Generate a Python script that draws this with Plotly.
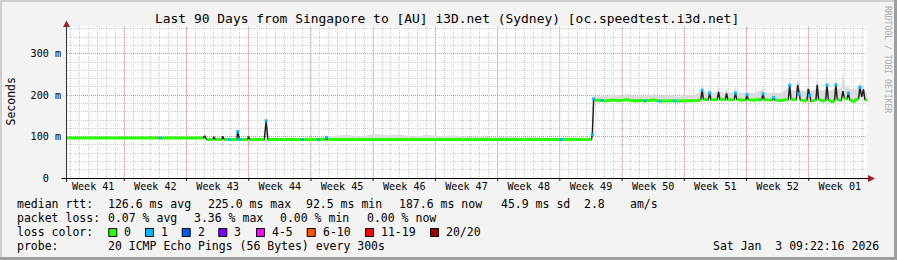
import plotly.graph_objects as go
import pandas as pd

# ---------------- data ----------------
TITLE = "Last 90 Days from Singapore to [AU] i3D.net (Sydney) [oc.speedtest.i3d.net]"
RANGE_START = "2025-10-05 13:22:16"
RANGE_END = "2026-01-03 13:22:16"

week_labels = ["Week 41", "Week 42", "Week 43", "Week 44", "Week 45", "Week 46", "Week 47",
               "Week 48", "Week 49", "Week 50", "Week 51", "Week 52", "Week 01"]
week_label_dates = ["2025-10-08 12:00", "2025-10-15 12:00", "2025-10-22 12:00", "2025-10-29 12:00",
                    "2025-11-05 12:00", "2025-11-12 12:00", "2025-11-19 12:00", "2025-11-26 12:00",
                    "2025-12-03 12:00", "2025-12-10 12:00", "2025-12-17 12:00", "2025-12-24 12:00",
                    "2025-12-31 12:00"]
week_starts = ["2025-10-12", "2025-10-19", "2025-10-26", "2025-11-02", "2025-11-09", "2025-11-16",
               "2025-11-23", "2025-11-30", "2025-12-07", "2025-12-14", "2025-12-21", "2025-12-28"]

y_tick_vals = [0, 100, 200, 300]
y_tick_text = ["0\u00a0\u00a0", "100 m", "200 m", "300 m"]

N = None
# days since graph start
day = [0.0, 2.0, 4.0, 6.0, 8.0, 10.3, 10.5, 10.7, 11.3, 11.4,
       11.6, 13.5, 15.3, 15.5, 15.7, 16.4, 16.5, 16.7, 17.4, 17.5,
       17.7, 18.2, 18.3, 18.4, 19.0, 19.1, 19.2, 19.4, 19.6, 20.3,
       20.4, 20.6, 22.2, 22.4, 22.6, 24.5, 26.4, 26.5, 26.6, 28.2,
       28.3, 28.4, 29.1, 29.2, 29.3, 30.0, 31.5, 33.0, 34.5, 36.0,
       37.5, 39.0, 40.5, 42.0, 43.5, 45.0, 46.5, 48.0, 49.5, 51.0,
       52.5, 54.0, 55.5, 55.6, 55.7, 57.5, 59.0, 59.1, 59.25, 59.4,
       59.9, 60.1, 60.2, 60.3, 60.5, 61.0, 61.5, 62.0, 62.5, 63.0,
       63.5, 64.0, 64.5, 64.9, 65.0, 65.1, 65.5, 66.0, 66.6, 66.7,
       66.8, 67.2, 67.8, 68.3, 68.4, 68.5, 68.9, 69.5, 70.0, 70.5,
       71.0, 71.3, 71.45, 71.6, 72.0, 72.15, 72.3, 72.45, 73.0, 73.15,
       73.3, 73.45, 73.9, 74.05, 74.2, 74.35, 74.9, 75.05, 75.2, 75.35,
       75.9, 76.35, 76.5, 76.65, 77.3, 77.8, 78.15, 78.3, 78.45, 79.0,
       79.35, 79.5, 79.65, 80.3, 80.8, 81.15, 81.3, 81.45, 81.9, 82.05,
       82.2, 82.35, 82.5, 83.1, 83.25, 83.4, 83.55, 83.7, 84.25, 84.4,
       84.55, 85.0, 85.35, 85.5, 85.65, 86.1, 86.35, 86.5, 86.65, 87.1,
       87.3, 87.45, 87.75, 87.9, 88.05, 88.5, 88.8, 89.05, 89.2, 89.4,
       89.6, 89.75, 90.0]
# median rtt (ms)
median_ms = [96.5, 96.5, 96.4, 96.5, 96.5, 96.5, 96.4, 96.5, 96.5, 98.0,
             96.5, 96.5, 96.5, 101.0, 93.2, 93.2, 99.5, 93.2, 93.2, 100.5,
             93.2, 93.2, 93.0, 93.2, 93.2, 93.2, 112.0, 93.0, 93.2, 93.2,
             99.5, 93.2, 93.2, 138.0, 93.2, 93.2, 93.2, 93.0, 93.2, 93.2,
             92.5, 93.2, 93.2, 97.5, 93.2, 93.3, 93.2, 93.2, 93.2, 93.2,
             93.2, 93.2, 93.3, 93.2, 93.2, 93.2, 93.2, 93.2, 93.2, 93.2,
             93.2, 93.2, 93.2, 93.0, 93.2, 93.2, 93.2, 105.0, 191.0, 188.0,
             186.5, 187.0, 187.5, 187.0, 186.0, 187.0, 188.5, 186.5, 187.5, 189.0,
             187.0, 186.0, 187.5, 186.5, 186.0, 186.5, 187.0, 188.5, 186.5, 185.5,
             186.0, 186.5, 187.0, 186.5, 186.0, 186.0, 186.0, 186.5, 185.5, 186.5,
             187.0, 189.0, 212.0, 190.0, 188.0, 189.0, 205.0, 189.0, 188.0, 189.0,
             208.0, 190.0, 188.5, 189.0, 204.0, 189.0, 188.0, 189.0, 205.0, 190.0,
             188.0, 188.5, 201.0, 189.0, 188.0, 189.5, 189.0, 203.0, 189.0, 188.0,
             188.5, 194.0, 188.5, 187.0, 189.0, 189.0, 224.0, 190.0, 189.0, 189.0,
             225.0, 203.0, 188.0, 186.0, 188.0, 215.0, 200.0, 185.0, 188.0, 225.0,
             190.0, 186.0, 188.0, 224.0, 189.0, 184.0, 188.0, 225.0, 190.0, 187.0,
             210.0, 193.0, 191.0, 205.0, 189.0, 184.0, 190.0, 191.0, 219.0, 196.0,
             214.0, 190.0, 187.6]
# lost pings per sample (None = no loss colour band drawn)
loss = [0, 0, 0, 0, 0, 0, 1, 0, 0, 0,
        0, 0, 0, N, 0, 0, N, 0, 0, N,
        0, 0, 1, 0, 0, 0, 1, 1, 0, 0,
        N, 0, 0, 1, 0, 0, 0, 1, 0, 0,
        1, 0, 0, 1, 0, 0, 0, 0, 0, 0,
        0, 0, 0, 0, 0, 0, 0, 0, 0, 0,
        0, 0, 0, 1, 0, 0, 0, 1, 1, 0,
        0, 0, 1, 0, 0, 0, 0, 0, 0, 0,
        0, 0, 0, 0, 1, 0, 0, 0, 0, 1,
        0, 0, 0, 0, 1, 0, 0, 0, 0, 0,
        0, 0, 1, 0, 0, 0, 1, 0, 0, 0,
        N, 0, 0, 0, N, 0, 0, 0, 1, 0,
        0, 0, 1, 0, 0, 0, 0, 1, 0, 0,
        0, 1, 0, 0, 0, 0, 1, 0, 0, 0,
        N, 1, 0, 0, 0, N, 1, 0, 0, N,
        0, 0, 0, 1, 0, 0, 0, 1, 0, 0,
        N, 0, 0, 1, 0, 0, 0, 0, 1, N,
        N, 0, 0]
# top of the smoke (ms)
smoke_ms = [97.5, 97.5, 97.5, 97.5, 97.5, 97.5, 97.5, 97.5, 98.0, 99.5,
            98.0, 97.5, 98.0, 102.0, 94.5, 94.5, 101.0, 94.5, 94.5, 102.0,
            94.5, 94.5, 94.5, 94.5, 95.0, 95.0, 115.0, 95.0, 95.0, 95.0,
            101.0, 95.0, 95.0, 141.0, 95.0, 95.0, 95.0, 95.0, 96.0, 97.0,
            98.0, 98.0, 99.0, 104.0, 100.0, 102.0, 104.0, 100.0, 106.0, 103.0,
            105.0, 100.0, 104.0, 101.0, 103.0, 99.0, 101.0, 98.0, 100.0, 98.0,
            99.0, 97.0, 97.0, 97.0, 97.0, 97.0, 96.0, 108.0, 200.0, 198.0,
            197.0, 199.0, 200.0, 200.0, 199.0, 197.0, 203.0, 200.0, 198.0, 204.0,
            199.0, 197.0, 201.0, 198.0, 198.0, 198.0, 199.0, 203.0, 198.0, 197.0,
            198.0, 199.0, 200.0, 198.0, 198.0, 198.0, 197.0, 199.0, 198.0, 200.0,
            205.0, 210.0, 225.0, 212.0, 205.0, 208.0, 215.0, 207.0, 206.0, 210.0,
            220.0, 210.0, 205.0, 210.0, 218.0, 207.0, 206.0, 210.0, 220.0, 208.0,
            205.0, 207.0, 212.0, 206.0, 205.0, 210.0, 212.0, 222.0, 208.0, 205.0,
            206.0, 210.0, 205.0, 206.0, 212.0, 218.0, 240.0, 214.0, 210.0, 215.0,
            238.0, 230.0, 212.0, 210.0, 215.0, 230.0, 215.0, 210.0, 215.0, 252.0,
            215.0, 210.0, 215.0, 240.0, 212.0, 212.0, 218.0, 245.0, 215.0, 218.0,
            258.0, 225.0, 218.0, 222.0, 215.0, 214.0, 215.0, 220.0, 235.0, 222.0,
            228.0, 210.0, 205.0]

loss_labels = ["0", "1", "2", "3", "4-5", "6-10", "11-19", "20/20"]
loss_colors = ["#26ff00", "#00b8ff", "#0059ff", "#7e00ff", "#ff00ff", "#ff5500", "#ff0000", "#a10000"]

stats_rtt = ["126.6 ms avg", "225.0 ms max", "92.5 ms min", "187.6 ms now", "45.9 ms sd", "2.8", "am/s"]
stats_loss = ["0.07 % avg", "3.36 % max", "0.00 % min", "0.00 % now"]
probe_text = "20 ICMP Echo Pings (56 Bytes) every 300s"
stamp_text = "Sat Jan\u00a0\u00a03 09:22:16 2026"

assert len(day) == len(median_ms) == len(loss) == len(smoke_ms)

# ---------------- layout geometry ----------------
W, H = 897, 260
L, R, T, B = 67, 30, 26, 82
PW, PH = W - L - R, H - T - B
MONO = "DejaVu Sans Mono"


def px(x, y):
    return (x - L) / PW, (H - B - y) / PH


t = pd.Timestamp(RANGE_START) + pd.to_timedelta(day, unit="D")

fig = go.Figure()
# smoke band
fig.add_trace(go.Scatter(x=t, y=median_ms, mode="lines", line=dict(width=0, color="rgba(0,0,0,0)"),
                         hoverinfo="skip", showlegend=False))
fig.add_trace(go.Scatter(x=t, y=smoke_ms, mode="lines", line=dict(width=0, color="rgba(0,0,0,0)"),
                         fill="tonexty", fillcolor="#dcdcdc", hoverinfo="skip", showlegend=False))
# thin dark median line
fig.add_trace(go.Scatter(x=t, y=median_ms, mode="lines", line=dict(width=1.5, color="#202020"),
                         showlegend=False))
# loss coloured median bands
g = [m if l == 0 else None for m, l in zip(median_ms, loss)]
fig.add_trace(go.Scatter(x=t, y=g, mode="lines", line=dict(width=3, color=loss_colors[0]),
                         connectgaps=False, showlegend=False))
b = [m if l == 1 else None for m, l in zip(median_ms, loss)]
fig.add_trace(go.Scatter(x=t, y=b, mode="markers",
                         marker=dict(symbol="square", size=3, color=loss_colors[1], line=dict(width=0)),
                         showlegend=False))

shapes = []
# week boundary (major) grid lines and ticks
for ws in week_starts:
    shapes.append(dict(type="line", xref="x", yref="paper", x0=ws, x1=ws, y0=0, y1=1,
                       line=dict(color="rgba(240,120,120,0.75)", width=1, dash="1px,1px"), layer="between"))
    shapes.append(dict(type="line", xref="x", yref="paper", x0=ws, x1=ws, y0=px(0, 178)[1],
                       y1=px(0, 181)[1], line=dict(color="#202020", width=1)))

# axis lines
ax0, ay0 = px(61.5, 178.5)
ax1, _ = px(868, 178.5)
shapes.append(dict(type="line", xref="paper", yref="paper", x0=ax0, x1=ax1, y0=ay0, y1=ay0,
                   line=dict(color="#000000", width=1)))
vx, vy0 = px(66.5, 182)
_, vy1 = px(66.5, 25)
shapes.append(dict(type="line", xref="paper", yref="paper", x0=vx, x1=vx, y0=vy0, y1=vy1,
                   line=dict(color="#303030", width=1)))


def tri(p1, p2, p3):
    a, b_, c = px(*p1), px(*p2), px(*p3)
    return f"M{a[0]},{a[1]} L{b_[0]},{b_[1]} L{c[0]},{c[1]} Z"


shapes.append(dict(type="path", xref="paper", yref="paper", path=tri((66.5, 20.5), (63.0, 27.0), (70.0, 27.0)),
                   fillcolor="#992222", line=dict(width=0)))
shapes.append(dict(type="path", xref="paper", yref="paper", path=tri((875.0, 178.5), (868.0, 175.0), (868.0, 182.0)),
                   fillcolor="#992222", line=dict(width=0)))


# outer 3d border
def edge(x0, y0, x1, y1, color, w):
    a, b_ = px(x0, y0), px(x1, y1)
    shapes.append(dict(type="line", xref="paper", yref="paper", x0=a[0], y0=a[1], x1=b_[0], y1=b_[1],
                       line=dict(color=color, width=w)))


edge(1, 0, 1, 260, "#cfcfcf", 2)
edge(0, 1, 897, 1, "#cfcfcf", 2)
edge(895.5, 0, 895.5, 260, "#9e9e9e", 3)
edge(0, 258.5, 897, 258.5, "#9e9e9e", 3)

annotations = []


def text(s, x, y, size=11.5, anchor="left", color="#000000", angle=0):
    xp, yp = px(x, y)
    annotations.append(dict(text=s, x=xp, y=yp, xref="paper", yref="paper", showarrow=False,
                            xanchor=anchor, yanchor="middle", borderpad=0, textangle=angle,
                            font=dict(family=MONO, size=size, color=color)))


text(TITLE, 447, 18.5, size=12.95, anchor="center")
text("Seconds", 10.8, 101.7, size=11.5, anchor="center", angle=-90)
text("RRDTOOL / TOBI OETIKER", 888, 59, size=8.1, anchor="center", color="#ababab", angle=90)

row_y = [204.3, 218.3, 232.3, 246.0]
text("median rtt:", 16, row_y[0])
for s, x in zip(stats_rtt, [107.3, 207.3, 305.0, 398.3, 500.0, 583.3, 629.0]):
    text(s, x, row_y[0])
text("packet loss:", 16, row_y[1])
for s, x in zip(stats_loss, [107.3, 192.7, 279.3, 365.7]):
    text(s, x, row_y[1])
text("loss color:", 16, row_y[2])
for lab, col, bx in zip(loss_labels, loss_colors, [108.3, 145.0, 181.7, 218.3, 256.0, 306.7, 365.0, 430.0]):
    a, c = px(bx + 0.5, 228.5), px(bx + 8.5, 236.5)
    shapes.append(dict(type="rect", xref="paper", yref="paper", x0=a[0], y0=a[1], x1=c[0], y1=c[1],
                       fillcolor=col, line=dict(color="#000000", width=1)))
    text(lab, bx + 15, row_y[2])
text("probe:", 16, row_y[3])
text(probe_text, 107.3, row_y[3])
text(stamp_text, 880, row_y[3], anchor="right")

fig.update_layout(
    width=W, height=H, margin=dict(l=L, r=R, t=T, b=B, pad=0),
    paper_bgcolor="#f3f3f3", plot_bgcolor="#ffffff",
    showlegend=False, shapes=shapes, annotations=annotations,
    xaxis=dict(type="date", range=[RANGE_START, RANGE_END], tickmode="array",
               tickvals=week_label_dates, ticktext=week_labels, showgrid=False, zeroline=False,
               showline=False, ticks="", ticklabelstandoff=1,
               tickfont=dict(family=MONO, size=10.1, color="#000000"),
               minor=dict(tickmode="linear", tick0="2025-10-05", dtick=86400000, showgrid=True,
                          gridcolor="#cccccc", griddash="1px,1px", gridwidth=1, ticks="")),
    yaxis=dict(range=[0, 367], tickmode="array", tickvals=y_tick_vals, ticktext=y_tick_text,
               showgrid=True, gridcolor="rgba(240,120,120,0.75)", griddash="1px,1px", gridwidth=1,
               zeroline=False, showline=False, ticks="", ticklabelstandoff=5,
               tickfont=dict(family=MONO, size=10.1, color="#000000"),
               minor=dict(tickmode="linear", tick0=0, dtick=20, showgrid=True,
                          gridcolor="#cccccc", griddash="1px,1px", gridwidth=1, ticks="")),
)

fig.write_html("out.html")
